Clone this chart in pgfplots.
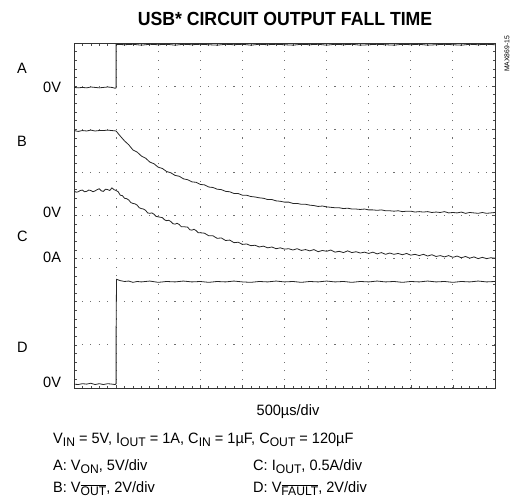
\documentclass[border=0pt]{standalone}
\usepackage{fontspec}
\setmainfont{Liberation Sans}[FakeStretch=0.97]
\newfontfamily\titlefont{Liberation Sans}[FakeStretch=0.93]
\usepackage{pgfplots}
\pgfplotsset{compat=1.18}
\newcommand\sub[1]{\raisebox{-0.4ex}{\fontsize{12.5}{12.5}\selectfont #1}}
\newcommand\subo[1]{\raisebox{-0.4ex}{\fontsize{12.5}{12.5}\selectfont$\overline{\mbox{#1}}$}}
\definecolor{trace}{HTML}{262626}
\definecolor{griddot}{HTML}{707070}
\begin{document}
\begin{tikzpicture}
\useasboundingbox (-74pt,-110pt) rectangle (437pt,388pt);
\begin{axis}[
  scale only axis, width=421pt, height=345pt,
  xmin=0, xmax=10, ymin=0, ymax=8,
  xtick={0,1,...,10}, ytick={0,1,...,8},
  xticklabels={}, yticklabels={},
  minor tick num=4,
  tick align=inside,
  xtick pos=both, ytick pos=both,
  major tick length=3pt, minor tick length=2.5pt,
  every tick/.style={black!70, line width=0.6pt},
  grid=major,
  x grid style={griddot, line width=1pt, dash pattern=on 1.1pt off 7.52pt, dash phase=0.55pt},
  y grid style={griddot, line width=1pt, dash pattern=on 1.1pt off 7.32pt, dash phase=0.55pt},
  axis line style={black!80, line width=1pt},
]
% A
\addplot[trace, line width=0.8pt] coordinates {
(0,6.97)(0.1,6.96)(0.2,6.97)(0.3,6.96)(0.4,6.98)(0.5,6.97)(0.6,6.96)(0.7,6.97)(0.8,6.98)(0.9,6.97)(0.98,6.95)(1.0,6.96)
(1.0,7.97)(1.2,7.96)(1.4,7.97)(1.6,7.95)(1.8,7.97)(2.0,7.96)(2.2,7.97)(2.4,7.95)(2.6,7.97)(2.8,7.96)(3.0,7.97)
(3.2,7.96)(3.4,7.95)(3.6,7.97)(3.8,7.96)(4.0,7.97)(4.2,7.95)(4.4,7.97)(4.6,7.96)(4.8,7.97)(5.0,7.96)(5.2,7.95)
(5.4,7.97)(5.6,7.96)(5.8,7.97)(6.0,7.95)(6.2,7.97)(6.4,7.96)(6.6,7.97)(6.8,7.95)(7.0,7.96)(7.2,7.97)(7.4,7.96)
(7.6,7.95)(7.8,7.97)(8.0,7.96)(8.2,7.97)(8.4,7.95)(8.6,7.96)(8.8,7.97)(9.0,7.96)(9.2,7.95)(9.4,7.97)(9.6,7.96)
(9.8,7.97)(10,7.96)
};
% B
\addplot[trace, line width=0.8pt] coordinates {
(0.0,5.97)(0.1,5.95)(0.2,5.97)(0.3,5.96)(0.4,5.98)(0.5,5.96)(0.6,5.97)(0.7,5.97)(0.8,5.98)(0.9,5.97)(1.0,5.96)
(1.1,5.84)(1.2,5.73)(1.3,5.64)(1.4,5.52)(1.5,5.47)(1.6,5.38)(1.7,5.33)(1.8,5.24)(1.9,5.20)(2.0,5.12)
(2.1,5.09)(2.2,5.02)(2.3,4.99)(2.4,4.93)(2.5,4.91)(2.6,4.85)(2.7,4.83)(2.8,4.78)(2.9,4.77)(3.0,4.72)
(3.1,4.71)(3.2,4.66)(3.3,4.65)(3.4,4.61)(3.5,4.60)(3.6,4.56)(3.7,4.55)(3.8,4.51)(3.9,4.51)(4.0,4.47)
(4.1,4.47)(4.2,4.44)(4.3,4.43)(4.4,4.41)(4.5,4.40)(4.6,4.37)(4.7,4.37)(4.8,4.34)(4.9,4.33)(5.0,4.31)
(5.1,4.31)(5.2,4.28)(5.3,4.28)(5.4,4.26)(5.5,4.26)(5.6,4.24)(5.7,4.23)(5.8,4.21)(5.9,4.22)(6.0,4.20)
(6.1,4.19)(6.2,4.18)(6.3,4.18)(6.4,4.16)(6.5,4.17)(6.6,4.15)(6.7,4.15)(6.8,4.14)(6.9,4.15)(7.0,4.13)
(7.1,4.13)(7.2,4.12)(7.3,4.13)(7.4,4.11)(7.5,4.11)(7.6,4.10)(7.7,4.11)(7.8,4.09)(7.9,4.10)(8.0,4.10)
(8.1,4.08)(8.2,4.09)(8.3,4.08)(8.4,4.09)(8.5,4.07)(8.6,4.08)(8.7,4.07)(8.8,4.09)(8.9,4.06)(9.0,4.07)
(9.1,4.06)(9.2,4.08)(9.3,4.05)(9.4,4.07)(9.5,4.06)(9.6,4.05)(9.7,4.07)(9.8,4.05)(9.9,4.06)(10.0,4.07)
};
% C
\addplot[trace, line width=0.8pt] coordinates {
(0.0,4.57)(0.05,4.54)(0.1,4.55)(0.15,4.58)(0.2,4.59)(0.25,4.55)(0.3,4.56)(0.35,4.59)(0.4,4.58)(0.45,4.55)(0.5,4.57)
(0.55,4.60)(0.6,4.62)(0.65,4.57)(0.7,4.56)(0.75,4.61)(0.8,4.60)(0.85,4.58)(0.9,4.64)(0.95,4.60)(1.0,4.58)
(1.05,4.55)(1.1,4.47)(1.15,4.46)(1.2,4.40)(1.25,4.39)(1.3,4.36)(1.35,4.30)(1.4,4.28)(1.45,4.27)(1.5,4.24)
(1.55,4.18)(1.6,4.16)(1.65,4.15)(1.7,4.12)(1.75,4.06)(1.8,4.05)(1.85,4.06)(1.9,4.03)(1.95,3.98)(2.0,3.97)
(2.1,3.95)(2.15,3.90)(2.2,3.88)(2.25,3.89)(2.3,3.86)(2.35,3.81)(2.4,3.80)(2.45,3.82)(2.5,3.79)(2.55,3.74)(2.6,3.74)
(2.7,3.73)(2.75,3.67)(2.8,3.66)(2.85,3.68)(2.9,3.65)(2.95,3.60)(3.0,3.60)
(3.1,3.59)(3.2,3.53)(3.3,3.53)(3.4,3.47)(3.5,3.48)(3.6,3.42)(3.7,3.43)(3.8,3.37)(3.9,3.38)(4.0,3.33)
(4.1,3.34)(4.2,3.30)(4.3,3.31)(4.4,3.27)(4.5,3.29)(4.6,3.25)(4.7,3.27)(4.8,3.23)(4.9,3.25)(5.0,3.22)
(5.1,3.23)(5.2,3.20)(5.3,3.23)(5.4,3.19)(5.5,3.21)(5.6,3.18)(5.7,3.21)(5.8,3.16)(5.9,3.19)(6.0,3.17)
(6.1,3.20)(6.2,3.15)(6.3,3.17)(6.4,3.14)(6.5,3.18)(6.6,3.14)(6.7,3.16)(6.8,3.13)(6.9,3.15)(7.0,3.12)
(7.1,3.15)(7.2,3.11)(7.3,3.14)(7.4,3.10)(7.5,3.13)(7.6,3.10)(7.7,3.12)(7.8,3.09)(7.9,3.12)(8.0,3.08)
(8.1,3.10)(8.2,3.07)(8.3,3.10)(8.4,3.06)(8.5,3.09)(8.6,3.05)(8.7,3.07)(8.8,3.04)(8.9,3.07)(9.0,3.03)
(9.1,3.06)(9.2,3.02)(9.3,3.05)(9.4,3.01)(9.5,3.04)(9.6,3.00)(9.7,3.03)(9.8,3.00)(9.9,3.02)(10.0,3.01)
};
% D
\addplot[trace, line width=0.8pt] coordinates {
(0.0,0.09)(0.1,0.08)(0.2,0.10)(0.3,0.09)(0.4,0.11)(0.5,0.08)(0.6,0.10)(0.7,0.08)(0.8,0.10)(0.9,0.09)(0.98,0.08)(1.0,0.10)
(1.0,1.3)(1.01,2.52)(1.1,2.49)(1.2,2.47)(1.3,2.48)(1.4,2.45)(1.5,2.47)(1.6,2.46)(1.8,2.48)(2.0,2.45)(2.2,2.47)
(2.4,2.46)(2.6,2.48)(2.8,2.46)(3.0,2.47)(3.2,2.45)(3.4,2.47)(3.6,2.46)(3.8,2.48)(4.0,2.46)(4.2,2.45)(4.4,2.47)
(4.6,2.46)(4.8,2.48)(5.0,2.46)(5.2,2.47)(5.4,2.45)(5.6,2.47)(5.8,2.46)(6.0,2.48)(6.2,2.46)(6.4,2.47)(6.6,2.45)
(6.8,2.47)(7.0,2.46)(7.2,2.48)(7.4,2.46)(7.6,2.47)(7.8,2.45)(8.0,2.47)(8.2,2.46)(8.4,2.48)(8.6,2.46)(8.8,2.47)
(9.0,2.45)(9.2,2.47)(9.4,2.46)(9.6,2.48)(9.8,2.46)(10.0,2.47)
};
\end{axis}
\begin{scope}[every node/.style={inner sep=0pt, font=\fontsize{15}{18}\selectfont}]
\node[anchor=base, font=\titlefont\bfseries\fontsize{19}{22}\selectfont] at (211pt,362pt) {USB* CIRCUIT OUTPUT FALL TIME};
\node[anchor=base west] at (-57pt,314pt) {A};
\node[anchor=base west] at (-31pt,295pt) {0V};
\node[anchor=base west] at (-57pt,241pt) {B};
\node[anchor=base west] at (-31pt,170pt) {0V};
\node[anchor=base west] at (-57pt,146pt) {C};
\node[anchor=base west] at (-31pt,125pt) {0A};
\node[anchor=base west] at (-57pt,36pt) {D};
\node[anchor=base west] at (-31pt,1pt) {0V};
\node[anchor=base] at (214pt,-27pt) {500µs/div};
\node[anchor=base west] at (-21pt,-55pt) {V\sub{IN} = 5V, I\sub{OUT} = 1A, C\sub{IN} = 1µF, C\sub{OUT} = 120µF};
\node[anchor=base west] at (-21pt,-82pt) {A: V\sub{ON}, 5V/div};
\node[anchor=base west] at (-21pt,-104pt) {B: V\subo{OUT}, 2V/div};
\node[anchor=base west] at (179pt,-82pt) {C: I\sub{OUT}, 0.5A/div};
\node[anchor=base west] at (179pt,-104pt) {D: V\subo{FAULT}, 2V/div};
\node[rotate=90, anchor=center, font=\fontsize{7}{8}\selectfont] at (433pt,334pt) {MAX869-15};
\end{scope}
\end{tikzpicture}
\end{document}
